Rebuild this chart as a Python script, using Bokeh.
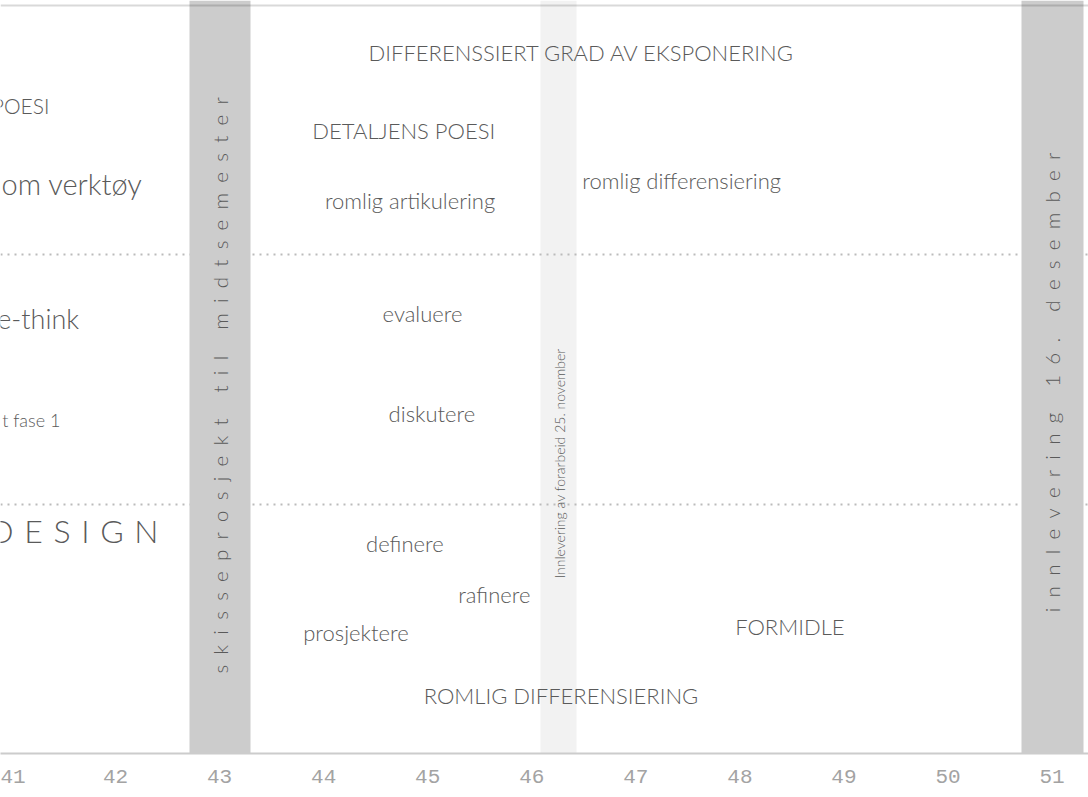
import math
from bokeh.plotting import figure
from bokeh.models import Range1d, FixedTicker, ColumnDataSource
from bokeh.core.properties import value
from bokeh.embed import file_html
from bokeh.resources import INLINE

# ---------------- data ----------------
weeks = [41, 42, 43, 44, 45, 46, 47, 48, 49, 50, 51]

# milestone bands (in weeks)
milestone_start = [42.71, 50.71]
milestone_end = [43.30, 51.30]
milestone_text = ["skisseprosjekt til midtsemester", "innlevering 16. desember"]
milestone_x = [43.0, 51.0]
milestone_y = [1.476, 1.488]

prework_start = [46.08]
prework_end = [46.43]
prework_text = ["Innlevering av forarbeid 25. november"]
prework_x = [46.27]
prework_y = [1.163]

divider_levels = [1.0, 2.0]
top_level = [3.0]

# centred labels
c_text = ["DIFFERENSSIERT GRAD AV EKSPONERING", "DETALJENS POESI",
          "romlig differensiering", "romlig artikulering", "evaluere",
          "diskutere", "definere", "rafinere", "prosjektere", "FORMIDLE",
          "ROMLIG DIFFERENSIERING"]
c_x = [46.48, 44.77, 47.44, 44.83, 44.95, 45.04, 44.78, 45.64, 44.31, 48.48, 46.28]
c_y = [2.811, 2.499, 2.298, 2.218, 1.765, 1.364, 0.842, 0.638, 0.485, 0.509, 0.233]
c_size = ["22px"] * len(c_text)

# labels continuing from the left (cut by the frame)
r_text = ["POESI", "om verktøy", "e-think", "t fase 1", "DESIGN"]
r_x = [41.365, 42.259, 41.65, 41.470, 42.413]
r_y = [2.599, 2.286, 1.745, 1.336, 0.894]
r_size = ["21px", "29px", "27px", "18px", "32px"]
r_spaced = [False, False, False, False, True]

FONT = "'Lato Light', Lato"
TXT = "#5a5a5a"


def spread(s, sep):
    return sep.join(list(s))


# ---------------- figure ----------------
p = figure(width=1088, height=795,
           x_range=Range1d(40.8945, 51.350), y_range=Range1d(0, 3.02),
           output_backend="svg", toolbar_location=None,
           y_axis_location=None,
           min_border_left=0, min_border_right=0,
           min_border_top=0, min_border_bottom=42)
p.grid.visible = False
p.outline_line_color = None
p.background_fill_color = "white"
p.border_fill_color = "white"

# light band
p.vstrip(x0=prework_start, x1=prework_end, fill_color="#f2f2f2", line_color=None)

# dotted dividers
p.hspan(y=divider_levels, line_color="#bbbbbb", line_width=2, line_dash="2 5")

# milestone bands
p.vstrip(x0=milestone_start, x1=milestone_end, fill_color="#cccccc", line_color=None)

# top border
p.hspan(y=top_level, line_color="black", line_alpha=0.15, line_width=2)

# texts
src_c = ColumnDataSource(dict(x=c_x, y=c_y, text=c_text, size=c_size))
p.text(x="x", y="y", text="text", source=src_c, text_font=value(FONT),
       text_font_size="size", text_align="center", text_baseline="middle",
       text_color=TXT)

r_disp = [spread(t, "\u2004") if s else t for t, s in zip(r_text, r_spaced)]
src_r = ColumnDataSource(dict(x=r_x, y=r_y, text=r_disp, size=r_size))
p.text(x="x", y="y", text="text", source=src_r, text_font=value(FONT),
       text_font_size="size", text_align="right", text_baseline="middle",
       text_color=TXT)

m_disp = [spread(t, "\u2002") for t in milestone_text]
p.text(x=milestone_x, y=milestone_y, text=m_disp, angle=math.pi / 2,
       text_font=value(FONT), text_font_size="20.5px", text_align="center",
       text_baseline="middle", text_color=TXT)

p.text(x=prework_x, y=prework_y, text=prework_text, angle=math.pi / 2,
       text_font=value(FONT), text_font_size="14px", text_align="center",
       text_baseline="middle", text_color=TXT)

# axis
ax = p.xaxis[0]
ax.ticker = FixedTicker(ticks=weeks)
ax.major_tick_line_color = None
ax.minor_tick_line_color = None
ax.axis_line_color = "#cccccc"
ax.axis_line_width = 2
ax.major_label_text_font = "Liberation Mono"
ax.major_label_text_font_size = "21px"
ax.major_label_text_color = "#a3a3a3"
ax.major_label_standoff = 10

open("out.html", "w").write(file_html(p, INLINE))
